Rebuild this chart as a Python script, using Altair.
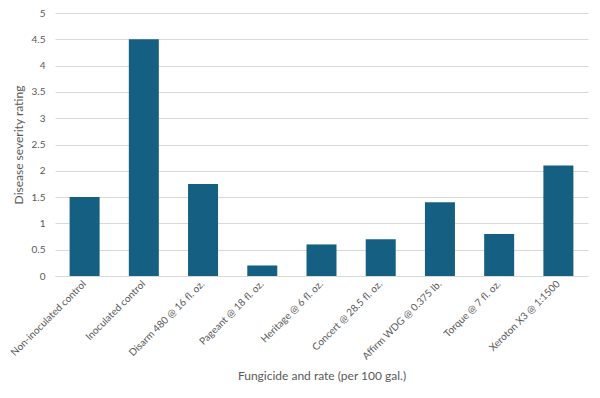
import altair as alt
import pandas as pd

categories = [
    "Non-inoculated control",
    "Inoculated control",
    "Disarm 480 @ 16 fl. oz.",
    "Pageant @ 18 fl. oz.",
    "Heritage @ 6 fl. oz.",
    "Concert @ 28.5 fl. oz.",
    "Affirm WDG @ 0.375 lb.",
    "Torque @ 7 fl. oz.",
    "Xeroton X3 @ 1:1500",
]
ratings = [1.5, 4.5, 1.75, 0.2, 0.6, 0.7, 1.4, 0.8, 2.1]
y_ticks = [0, 0.5, 1, 1.5, 2, 2.5, 3, 3.5, 4, 4.5, 5]

df = pd.DataFrame({"treatment": categories, "rating": ratings})

font = "Lato"

chart = (
    alt.Chart(df)
    .mark_bar(color="#156082", size=30)
    .encode(
        x=alt.X(
            "treatment:N",
            sort=categories,
            title="Fungicide and rate (per 100 gal.)",
            axis=alt.Axis(
                labelAngle=-45,
                labelAlign="right",
                labelBaseline="middle",
                labelFontSize=10,
                labelColor="#595959",
                labelFont=font,
                ticks=False,
                domainColor="#d9d9d9",
                labelPadding=6,
                titleFontSize=12,
                titleFontWeight="normal",
                titleColor="#595959",
                titleFont=font,
                titlePadding=9,
            ),
            scale=alt.Scale(paddingInner=0.49, paddingOuter=0.245),
        ),
        y=alt.Y(
            "rating:Q",
            title="Disease severity rating",
            scale=alt.Scale(domain=[0, 5], nice=False),
            axis=alt.Axis(
                values=y_ticks,
                labelExpr="format(datum.value, '')",
                labelFontSize=10,
                labelColor="#595959",
                labelFont=font,
                ticks=False,
                domain=False,
                gridColor="#d9d9d9",
                labelPadding=10,
                titleFontSize=12,
                titleFontWeight="normal",
                titleColor="#595959",
                titleFont=font,
                titlePadding=6,
            ),
        ),
    )
    .properties(
        width=533,
        height=263,
        autosize=alt.AutoSizeParams(type="none"),
        padding={"left": 47, "top": 5, "right": 4, "bottom": 110},
    )
    .configure_view(stroke=None)
)

chart.save("out.html", embed_options={"renderer": "svg", "actions": False})
